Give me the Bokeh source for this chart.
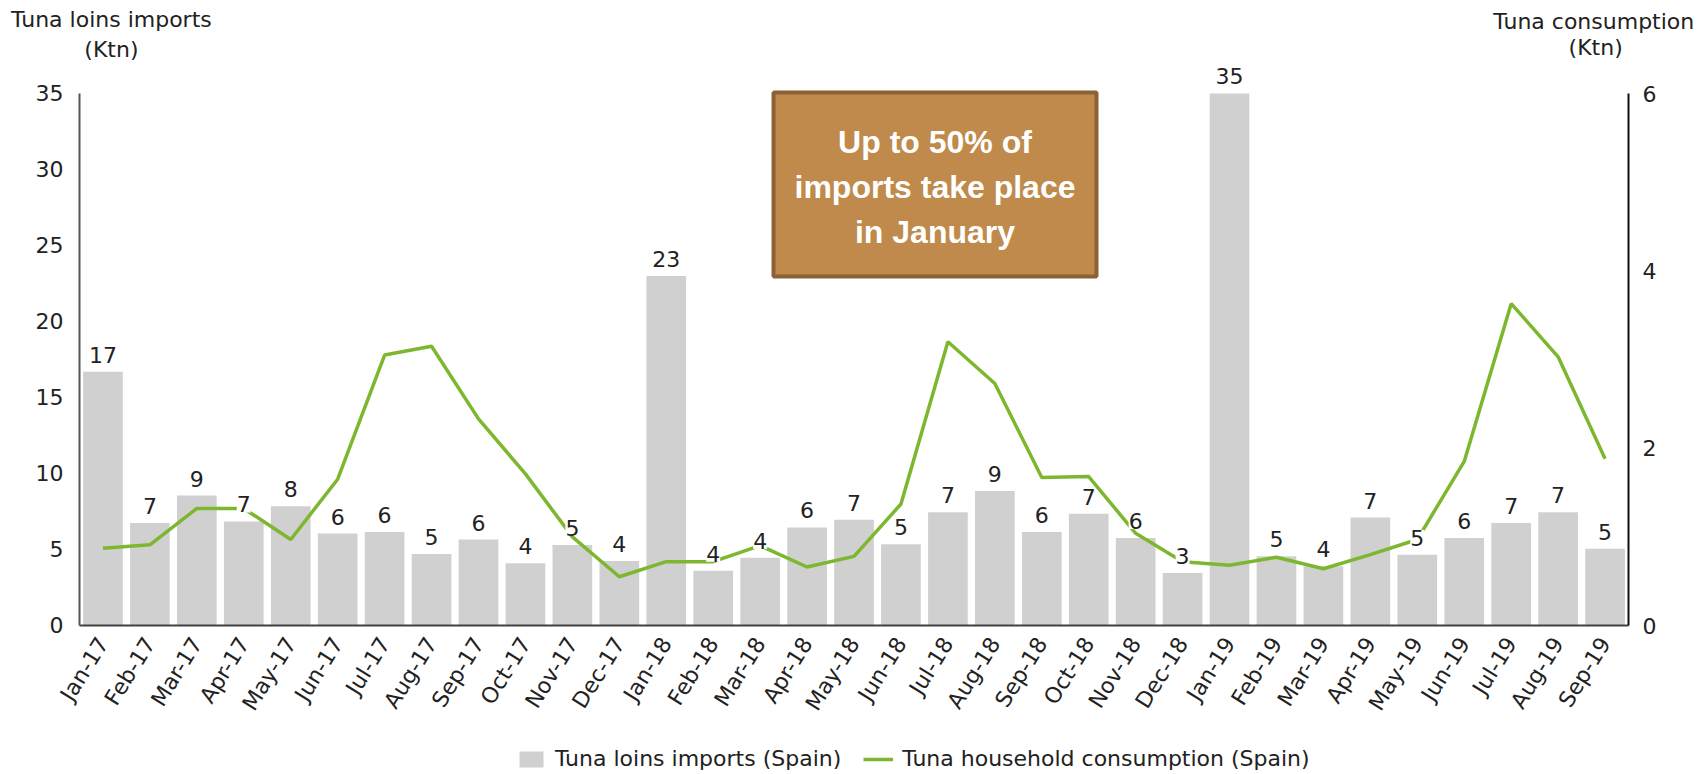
import math
from bokeh.plotting import figure
from bokeh.core.properties import value
from bokeh.models import (Range1d, LinearAxis, FixedTicker, ColumnDataSource, LabelSet,
                          Label, BoxAnnotation, Legend, LegendItem)
from bokeh.embed import file_html
from bokeh.resources import INLINE

months = ["Jan-17", "Feb-17", "Mar-17", "Apr-17", "May-17", "Jun-17", "Jul-17", "Aug-17",
          "Sep-17", "Oct-17", "Nov-17", "Dec-17", "Jan-18", "Feb-18", "Mar-18", "Apr-18",
          "May-18", "Jun-18", "Jul-18", "Aug-18", "Sep-18", "Oct-18", "Nov-18", "Dec-18",
          "Jan-19", "Feb-19", "Mar-19", "Apr-19", "May-19", "Jun-19", "Jul-19", "Aug-19",
          "Sep-19"]
imports = [16.7, 6.75, 8.55, 6.85, 7.85, 6.05, 6.15, 4.7, 5.65, 4.1, 5.3, 4.25, 23.0, 3.6,
           4.45, 6.45, 6.95, 5.35, 7.45, 8.85, 6.15, 7.35, 5.75, 3.45, 35.0, 4.55, 3.9, 7.1,
           4.65, 5.75, 6.75, 7.45, 5.05]
consumption = [0.87, 0.91, 1.32, 1.32, 0.97, 1.65, 3.05, 3.15, 2.33, 1.71, 1.0, 0.55, 0.72,
               0.72, 0.9, 0.66, 0.78, 1.37, 3.2, 2.73, 1.67, 1.68, 1.04, 0.72, 0.68, 0.77,
               0.64, 0.8, 0.97, 1.85, 3.63, 3.03, 1.88]
left_ticks = [0, 5, 10, 15, 20, 25, 30, 35]
right_ticks = [0, 2, 4, 6]

FONT = "DejaVu Sans"
TXT = "#222222"
idx = list(range(len(months)))
labels = [str(int(round(v))) for v in imports]
n = len(months)

src = ColumnDataSource(dict(x=idx, imp=imports, cons=consumption, lab=labels))

# frame spans the whole canvas; axes are placed at fixed locations and bounded
p = figure(width=1696, height=772, output_backend="svg", toolbar_location=None,
           x_range=Range1d(-2.183, 33.948), y_range=Range1d(-9.671, 41.118),
           min_border_left=0, min_border_right=0, min_border_top=0, min_border_bottom=0)
p.extra_y_ranges = {"cons": Range1d(-1.6579, 7.0489)}
p.xgrid.visible = False
p.ygrid.visible = False
p.outline_line_color = None
p.background_fill_color = "white"
p.border_fill_color = "white"

bars = p.vbar(x="x", top="imp", width=0.845, source=src, fill_color="#D0D0D0", line_color=None)
ln = p.line(x="x", y="cons", source=src, y_range_name="cons", line_color="#7DB72F", line_width=3.5)

# axes
xa = p.xaxis[0]
xa.fixed_location = 0
xa.bounds = (-0.5, n - 0.5)
xa.ticker = FixedTicker(ticks=idx)
xa.major_label_overrides = {i: m for i, m in enumerate(months)}
xa.major_label_orientation = math.radians(58)
xa.major_tick_line_color = None
xa.major_tick_out = 0
xa.major_tick_in = 0
xa.minor_tick_line_color = None
xa.axis_line_color = "#404040"
xa.axis_line_width = 2
xa.major_label_text_font = FONT
xa.major_label_text_font_size = "22px"
xa.major_label_text_color = TXT
xa.major_label_standoff = 14

ya = p.yaxis[0]
ya.fixed_location = -0.5
ya.ticker = FixedTicker(ticks=left_ticks)
ya.bounds = (0, 35)
ya.major_tick_line_color = None
ya.major_tick_out = 0
ya.major_tick_in = 0
ya.minor_tick_line_color = None
ya.axis_line_color = "#555555"
ya.axis_line_width = 2
ya.major_label_text_font = FONT
ya.major_label_text_font_size = "22px"
ya.major_label_text_color = TXT
ya.major_label_standoff = 16

ra = LinearAxis(y_range_name="cons", ticker=FixedTicker(ticks=right_ticks), bounds=(0, 6),
                fixed_location=n - 0.5)
ra.major_tick_line_color = None
ra.major_tick_out = 0
ra.major_tick_in = 0
ra.minor_tick_line_color = None
ra.axis_line_color = "#111111"
ra.axis_line_width = 2
ra.major_label_text_font = FONT
ra.major_label_text_font_size = "22px"
ra.major_label_text_color = TXT
ra.major_label_standoff = 14
p.add_layout(ra, "right")

# data labels with white background
ls = LabelSet(x="x", y="imp", text="lab", source=src, text_align="center",
              text_baseline="middle", y_offset=17, text_font=value(FONT),
              text_font_size="22px", text_color=TXT,
              background_fill_color="white", background_fill_alpha=1.0)
p.add_layout(ls)

# annotation box
box = BoxAnnotation(left=14.285, right=21.166, top=35.066, bottom=22.96,
                    fill_color="#BF8A4B", fill_alpha=1.0, line_color="#8C6234", line_width=4,
                    line_alpha=1.0)
p.add_layout(box)
p.add_layout(Label(x=17.725, y=28.88, text="Up to 50% of\nimports take place\nin January",
                   text_font="Liberation Sans", text_font_style="bold", text_font_size="32px",
                   text_color="white", text_align="center", text_baseline="middle",
                   text_line_height=1.25))

# axis titles
p.add_layout(Label(x=0.18, y=38.88, text="Tuna loins imports\n(Ktn)", text_font=FONT,
                   text_font_size="22px", text_color=TXT, text_align="center",
                   text_baseline="middle", text_line_height=1.2))
p.add_layout(Label(x=33.90, y=39.74, text="Tuna consumption", text_font=FONT,
                   text_font_size="22px", text_color=TXT, text_align="right",
                   text_baseline="middle"))
p.add_layout(Label(x=31.80, y=38.03, text="(Ktn)", text_font=FONT,
                   text_font_size="22px", text_color=TXT, text_align="center",
                   text_baseline="middle"))

legend = Legend(items=[LegendItem(label="Tuna loins imports (Spain)", renderers=[bars]),
                       LegendItem(label="Tuna household consumption (Spain)", renderers=[ln])],
                location=(516, 1), orientation="horizontal", padding=0, margin=0,
                spacing=22, glyph_width=30, glyph_height=20, label_standoff=9,
                label_text_font=FONT, label_text_font_size="22px", label_text_color=TXT,
                background_fill_alpha=0, border_line_color=None)
p.add_layout(legend, "center")

open("out.html", "w").write(file_html(p, INLINE))
